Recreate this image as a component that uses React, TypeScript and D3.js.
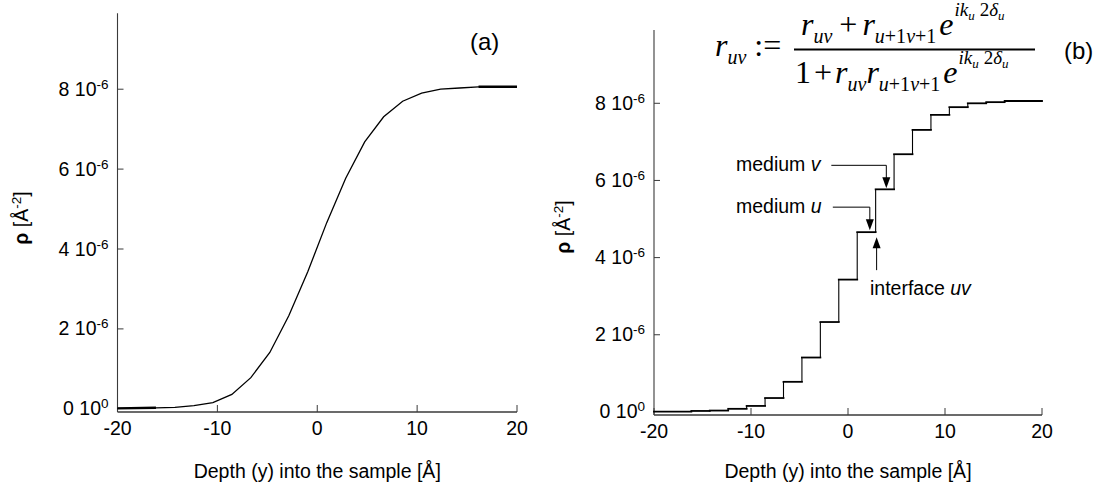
import React from 'react';
import * as d3 from 'd3';

// layer boundaries [Å] and scattering length density of each layer [1e-6 Å^-2]
const layerEdges = [-16.15, -14.25, -12.35, -10.45, -8.55, -6.65, -4.75, -2.85, -0.95, 0.95, 2.85, 4.75, 6.65, 8.55, 10.45, 12.35, 14.25, 16.15];
const layerRho = [0.01, 0.025, 0.035, 0.08, 0.155, 0.36, 0.78, 1.41, 2.33, 3.43, 4.66, 5.77, 6.68, 7.31, 7.7, 7.9, 8.0, 8.03, 8.06];

const xTicks = [-20, -10, 0, 10, 20];
const yTicks = [0, 2, 4, 6, 8];
const yTickExp = ['0', '-6', '-6', '-6', '-6'];
const xDomain = [-20, 20];
const yDomain = [-0.08, 9.9];

const FONT = '"Liberation Sans", Arial, sans-serif';
const SERIF = '"Liberation Serif", "Times New Roman", serif';
const AXIS = '#3a3a3a';

type Panel = { x0: number; x1: number; yBottom: number; yTop: number; titleX: number; titleY: number };

const panelA: Panel = { x0: 117.5, x1: 517, yBottom: 412, yTop: 13.3, titleX: 28, titleY: 218 };
const panelB: Panel = { x0: 654, x1: 1042, yBottom: 415, yTop: 30, titleX: 570, titleY: 227 };

const scalesFor = (p: Panel) => {
  const x = d3.scaleLinear().domain(xDomain).range([p.x0, p.x1]);
  const y = d3.scaleLinear().domain(yDomain).range([p.yBottom, p.yTop]);
  return { x, y };
};

const Axes = ({ p }: { p: Panel }) => {
  const { x, y } = scalesFor(p);
  return (
    <g>
      <line x1={p.x0} x2={p.x0} y1={p.yTop} y2={p.yBottom} stroke={AXIS} strokeWidth={1.1} />
      <line x1={p.x0} x2={p.x1} y1={p.yBottom} y2={p.yBottom} stroke={AXIS} strokeWidth={1.3} />
      {xTicks.map(t => (
        <g key={'x' + t}>
          <line x1={x(t)} x2={x(t)} y1={p.yBottom} y2={p.yBottom - 7} stroke={AXIS} strokeWidth={1} />
          <text x={x(t)} y={p.yBottom + 23} textAnchor="middle" fontSize={19.5} fontFamily={FONT}>{t}</text>
        </g>
      ))}
      {yTicks.map((t, i) => (
        <g key={'y' + t}>
          {t !== 0 && <line x1={p.x0} x2={p.x0 + 6} y1={y(t)} y2={y(t)} stroke={AXIS} strokeWidth={1} />}
          <text x={p.x0 - 9} y={y(t) + 6.5} textAnchor="end" fontSize={19.5} fontFamily={FONT}>
            {t} 10<tspan fontSize={13.5} dy={-7}>{yTickExp[i]}</tspan>
          </text>
        </g>
      ))}
      <text x={x(0)} y={478} textAnchor="middle" fontSize={19.5} fontFamily={FONT}>Depth (y) into the sample [Å]</text>
      <text transform={`translate(${p.titleX},${p.titleY}) rotate(-90)`} textAnchor="middle" fontSize={19.5} fontFamily={FONT}>
        <tspan fontWeight="bold">ρ</tspan> [Å<tspan fontSize={13.5} dy={-7}>-2</tspan><tspan dy={7}>]</tspan>
      </text>
    </g>
  );
};

const arrowHead = (tx: number, ty: number, dir: number) =>
  `M${tx},${ty} L${tx - 4},${ty - dir * 11} L${tx + 4},${ty - dir * 11} Z`;

// e^{ik_u 2δ_u} phase factor, drawn after the subscript of r_{u+1v+1}
const Phase = () => (
  <>
    <tspan dx={3} dy={-8} fontStyle="italic">e</tspan>
    <tspan fontSize={19} dy={-19} dx={1} fontStyle="italic">ik</tspan>
    <tspan fontSize={13} dy={4} fontStyle="italic">u</tspan>
    <tspan fontSize={19} dx={5} dy={-4}>2</tspan>
    <tspan fontSize={19} fontStyle="italic">δ</tspan>
    <tspan fontSize={13} dy={4} fontStyle="italic">u</tspan>
  </>
);

export default function App() {
  const a = scalesFor(panelA);
  const b = scalesFor(panelB);

  // smooth profile: each layer's density placed at its left boundary
  const curvePts: [number, number][] = [[xDomain[0], layerRho[0]]];
  layerEdges.forEach((e, i) => curvePts.push([e, layerRho[i + 1]]));
  curvePts.push([xDomain[1], layerRho[layerRho.length - 1]]);
  const line = d3.line<[number, number]>().x(d => a.x(d[0])).y(d => a.y(d[1]));
  const n = curvePts.length;

  // slab model (b)
  const bounds = [xDomain[0], ...layerEdges, xDomain[1]];

  const vx = b.x(3.95), vTip = b.y(layerRho[11]) - 1;
  const ux = b.x(2.25), uTip = b.y(layerRho[10]) - 2;
  const ix = b.x(2.95), iTip = b.y(layerRho[10]) + 5;

  return (
    <svg width={1097} height={487} style={{ position: 'absolute', left: 0, top: 0, background: '#fff' }}>
      <Axes p={panelA} />
      <path d={line(curvePts) || ''} fill="none" stroke="#000" strokeWidth={1.3} />
      <path d={line(curvePts.slice(0, 2)) || ''} fill="none" stroke="#000" strokeWidth={2.4} />
      <path d={line(curvePts.slice(n - 2)) || ''} fill="none" stroke="#000" strokeWidth={2.4} />
      <text x={470} y={50} fontSize={24} fontFamily={FONT}>(a)</text>

      <Axes p={panelB} />
      {layerRho.map((r, i) => (
        <line key={'h' + i} x1={b.x(bounds[i])} x2={b.x(bounds[i + 1])} y1={b.y(r)} y2={b.y(r)}
          stroke="#000" strokeWidth={1.8} strokeLinecap="square" />
      ))}
      {layerEdges.map((e, i) => (
        <line key={'v' + i} x1={b.x(e)} x2={b.x(e)} y1={b.y(layerRho[i])} y2={b.y(layerRho[i + 1])}
          stroke="#000" strokeWidth={1.1} />
      ))}

      {/* annotations */}
      <g fontFamily={FONT} fontSize={19.5}>
        <text x={736} y={171}>medium <tspan fontStyle="italic">v</tspan></text>
        <polyline points={`${vx - 55},${vTip - 23} ${vx},${vTip - 23} ${vx},${vTip - 10}`} fill="none" stroke="#000" strokeWidth={1} />
        <path d={arrowHead(vx, vTip, 1)} fill="#000" />
        <text x={736} y={213}>medium <tspan fontStyle="italic">u</tspan></text>
        <polyline points={`${ux - 37},${uTip - 23} ${ux},${uTip - 23} ${ux},${uTip - 10}`} fill="none" stroke="#000" strokeWidth={1} />
        <path d={arrowHead(ux, uTip, 1)} fill="#000" />
        <line x1={ix} x2={ix} y1={iTip + 33} y2={iTip + 10} stroke="#000" strokeWidth={1} />
        <path d={arrowHead(ix, iTip, -1)} fill="#000" />
        <text x={870} y={295}>interface <tspan fontStyle="italic">uv</tspan></text>
      </g>

      {/* Parratt recursion */}
      <g fontFamily={SERIF} fontSize={32}>
        <text x={715} y={56}>
          <tspan fontStyle="italic">r</tspan>
          <tspan fontStyle="italic" fontSize={20} dy={8}>uv</tspan>
          <tspan dx={8} dy={-8}>:=</tspan>
        </text>
        <line x1={794} x2={1035} y1={49.5} y2={49.5} stroke="#000" strokeWidth={1.8} />
        <text x={801} y={35}>
          <tspan fontStyle="italic">r</tspan>
          <tspan fontStyle="italic" fontSize={20} dy={8}>uv</tspan>
          <tspan dx={7} dy={-8}>+</tspan>
          <tspan dx={5} fontStyle="italic">r</tspan>
          <tspan fontSize={20} dy={8}><tspan fontStyle="italic">u</tspan>+1<tspan fontStyle="italic">v</tspan>+1</tspan>
          <Phase />
        </text>
        <text x={795} y={83}>
          <tspan>1</tspan>
          <tspan dx={3}>+</tspan>
          <tspan dx={3} fontStyle="italic">r</tspan>
          <tspan fontStyle="italic" fontSize={20} dy={8}>uv</tspan>
          <tspan fontStyle="italic" dy={-8}>r</tspan>
          <tspan fontSize={20} dy={8}><tspan fontStyle="italic">u</tspan>+1<tspan fontStyle="italic">v</tspan>+1</tspan>
          <Phase />
        </text>
      </g>
      <text x={1064} y={59} fontSize={24} fontFamily={FONT}>(b)</text>
    </svg>
  );
}
